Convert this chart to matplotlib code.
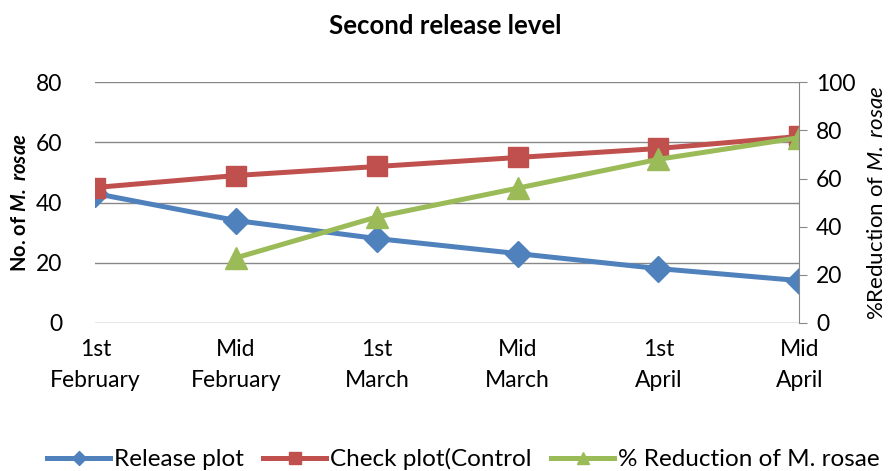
import matplotlib
matplotlib.use("Agg")
import matplotlib.pyplot as plt
import numpy as np

plt.rcParams["font.family"] = ["Lato", "DejaVu Sans"]
plt.rcParams["mathtext.fontset"] = "custom"
plt.rcParams["mathtext.rm"] = "Lato"
plt.rcParams["mathtext.it"] = "Lato:italic"
plt.rcParams["mathtext.bf"] = "Lato:bold"
plt.rcParams["mathtext.bfit"] = "Lato:italic:bold"

labels = ["1st\nFebruary", "Mid\nFebruary", "1st\nMarch", "Mid\nMarch", "1st\nApril", "Mid\nApril"]
release = [43, 34, 28, 23, 18, 14]
check = [45, 49, 52, 55, 58, 62]
reduction = [np.nan, 27, 44, 56, 68, 77]

blue = "#4F81BD"
red = "#C0504D"
green = "#9BBB59"

x = np.arange(len(labels))

fig = plt.figure(figsize=(8.91, 4.71), dpi=100)
ax = fig.add_axes([0.107, 0.315, 0.79, 0.51])
ax2 = ax.twinx()

l1, = ax.plot(x, release, color=blue, lw=3.6, marker="D", ms=13, label="Release plot")
l2, = ax.plot(x, check, color=red, lw=3.6, marker="s", ms=15, label="Check plot(Control")
l3, = ax2.plot(x, reduction, color=green, lw=3.6, marker="^", ms=16, label="% Reduction of M. rosae")

ax.set_xlim(0, 5)
ax.set_ylim(0, 80)
ax.set_yticks([0, 20, 40, 60, 80])
ax2.set_ylim(0, 100)
ax2.set_yticks([0, 20, 40, 60, 80, 100])
ax.set_xticks(x)
ax.set_xticklabels(labels, fontsize=16.5, linespacing=1.55)
ax.tick_params(axis="x", length=0, pad=12)
ax.tick_params(axis="y", length=0, labelsize=16.5, pad=24)
ax2.tick_params(axis="y", length=6, color="#888888", labelsize=16.5, direction="out", pad=6)
ax.grid(axis="y", color="#888888", lw=1)
ax.set_axisbelow(True)

for s in ["top", "left", "right", "bottom"]:
    ax.spines[s].set_visible(False)
    ax2.spines[s].set_visible(False)
ax2.spines["right"].set_visible(True)
ax2.spines["right"].set_color("#888888")

ax.set_ylabel(r"No. of $\mathbfit{M.\ rosae}$", fontsize=14.5, fontweight="bold", labelpad=4)
ax2.set_ylabel(r"%Reduction of $\mathit{M.\ rosae}$", fontsize=16, labelpad=8)

fig.suptitle("Second release level", fontsize=18.5, fontweight="bold", y=0.97)

fig.legend(handles=[l1, l2, l3], loc="lower center", ncol=3, frameon=False,
           fontsize=17.5, bbox_to_anchor=(0.52, -0.045), handlelength=2.6,
           handletextpad=0.15, columnspacing=0.8, markerscale=0.55)

fig.savefig("out.png", dpi=100)
